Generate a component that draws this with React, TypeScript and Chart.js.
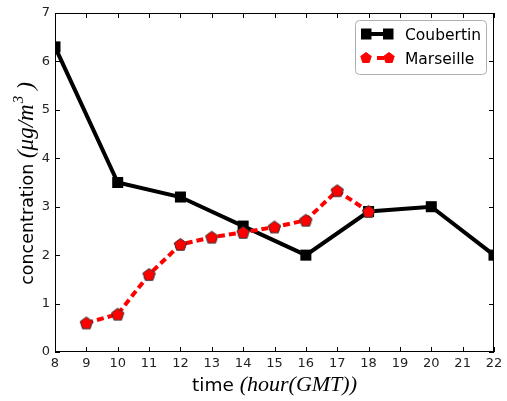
import React, { useEffect, useRef } from "react";
import { Chart, registerables } from "chart.js";
Chart.register(...registerables);

const hoursC = [8, 10, 12, 14, 16, 18, 20, 22];
const coubertin = [6.3, 3.5, 3.2, 2.6, 2.0, 2.9, 3.0, 2.0];
const hoursM = [9, 10, 11, 12, 13, 14, 15, 16, 17, 18];
const marseille = [0.6, 0.78, 1.6, 2.22, 2.37, 2.47, 2.58, 2.72, 3.33, 2.9];
const xRange = [8, 22];
const yRange = [0, 7];
const seriesNames = ["Coubertin", "Marseille"];

function pentagonCanvas(r: number, fill: string, stroke: string) {
  const size = Math.ceil(r * 2 + 4);
  const c = document.createElement("canvas");
  c.width = size;
  c.height = size;
  const g = c.getContext("2d")!;
  drawPentagon(g, size / 2, size / 2 + 0.5, r, fill, stroke);
  return c;
}

function drawPentagon(g: CanvasRenderingContext2D, cx: number, cy: number, r: number, fill: string, stroke: string) {
  g.beginPath();
  for (let i = 0; i < 5; i++) {
    const a = -Math.PI / 2 + (i * 2 * Math.PI) / 5;
    const px = cx + r * Math.cos(a);
    const py = cy + r * Math.sin(a);
    if (i === 0) g.moveTo(px, py);
    else g.lineTo(px, py);
  }
  g.closePath();
  g.fillStyle = fill;
  g.fill();
  g.lineWidth = 1;
  g.strokeStyle = stroke;
  g.stroke();
}

const SANS = "'DejaVu Sans', sans-serif";
const MATH = "'Liberation Serif', serif";

const decorPlugin = {
  id: "decor",
  afterDatasetsDraw(chart: any) {
    const { ctx, chartArea } = chart;
    const { left, right, top, bottom } = chartArea;
    const xs = chart.scales.x;
    const ys = chart.scales.y;
    ctx.save();
    // frame
    ctx.strokeStyle = "#000";
    ctx.lineWidth = 1;
    ctx.strokeRect(left + 0.5, top + 0.5, right - left - 1, bottom - top - 1);
    // inward ticks
    const tl = 5;
    ctx.beginPath();
    for (let v = xRange[0]; v <= xRange[1]; v++) {
      const px = Math.round(xs.getPixelForValue(v)) + 0.5;
      ctx.moveTo(px, bottom);
      ctx.lineTo(px, bottom - tl);
      ctx.moveTo(px, top);
      ctx.lineTo(px, top + tl);
    }
    for (let v = yRange[0]; v <= yRange[1]; v++) {
      const py = Math.round(ys.getPixelForValue(v)) + 0.5;
      ctx.moveTo(left, py);
      ctx.lineTo(left + tl, py);
      ctx.moveTo(right, py);
      ctx.lineTo(right - tl, py);
    }
    ctx.stroke();

    // legend
    const lx = 355.5, ly = 20.5, lw = 131, lh = 54;
    ctx.beginPath();
    const rr = 4;
    ctx.moveTo(lx + rr, ly);
    ctx.arcTo(lx + lw, ly, lx + lw, ly + lh, rr);
    ctx.arcTo(lx + lw, ly + lh, lx, ly + lh, rr);
    ctx.arcTo(lx, ly + lh, lx, ly, rr);
    ctx.arcTo(lx, ly, lx + lw, ly, rr);
    ctx.closePath();
    ctx.fillStyle = "#fff";
    ctx.fill();
    ctx.strokeStyle = "#b0b0b0";
    ctx.lineWidth = 1;
    ctx.stroke();

    // Coubertin entry
    const r1y = 34;
    ctx.beginPath();
    ctx.strokeStyle = "#000";
    ctx.lineWidth = 4;
    ctx.moveTo(368, r1y);
    ctx.lineTo(387, r1y);
    ctx.stroke();
    ctx.fillStyle = "#000";
    ctx.fillRect(361, r1y - 5.5, 10.5, 11);
    ctx.fillRect(383, r1y - 5.5, 10.5, 11);
    // Marseille entry
    const r2y = 58;
    ctx.beginPath();
    ctx.strokeStyle = "#ff0000";
    ctx.lineWidth = 4;
    ctx.moveTo(377, r2y);
    ctx.lineTo(384, r2y);
    ctx.stroke();
    drawPentagon(ctx, 366, r2y, 5.5, "#ff0000", "#ff0000");
    drawPentagon(ctx, 389, r2y, 5.5, "#ff0000", "#ff0000");

    ctx.fillStyle = "#000";
    ctx.font = `15.5px ${SANS}`;
    ctx.textBaseline = "alphabetic";
    ctx.textAlign = "left";
    ctx.fillText(seriesNames[0], 405, 40);
    ctx.fillText(seriesNames[1], 405, 64);

    // x title, centred on plot
    const cx = (left + right) / 2;
    ctx.font = `18.5px ${SANS}`;
    const w1 = ctx.measureText("time ").width;
    ctx.font = `italic 22px ${MATH}`;
    const w2 = ctx.measureText("(hour(GMT))").width;
    let x = cx - (w1 + w2) / 2;
    const by = 391;
    ctx.font = `18.5px ${SANS}`;
    ctx.fillText("time ", x, by);
    x += w1;
    ctx.font = `italic 22px ${MATH}`;
    ctx.fillText("(hour(GMT))", x, by);

    // y title, centred on plot
    ctx.font = `17.5px ${SANS}`;
    const a1 = ctx.measureText("concentration ").width;
    ctx.font = `italic 23px ${MATH}`;
    const a2 = ctx.measureText("(μg/m").width;
    ctx.font = `italic 15px ${MATH}`;
    const a3 = ctx.measureText("3").width + 7;
    ctx.font = `italic 23px ${MATH}`;
    const a4 = ctx.measureText(")").width;
    const total = a1 + a2 + a3 + a4;
    const cy = (top + bottom) / 2 + 1;
    ctx.save();
    ctx.translate(33, cy + total / 2);
    ctx.rotate(-Math.PI / 2);
    let t = 0;
    ctx.font = `17.5px ${SANS}`;
    ctx.fillText("concentration ", t, 0);
    t += a1;
    ctx.font = `italic 23px ${MATH}`;
    ctx.fillText("(μg/m", t, 0);
    t += a2;
    ctx.font = `italic 15px ${MATH}`;
    ctx.fillText("3", t + 1, -10);
    t += a3;
    ctx.font = `italic 23px ${MATH}`;
    ctx.fillText(")", t, 0);
    ctx.restore();

    ctx.restore();
  },
};

export default function App() {
  const ref = useRef<HTMLCanvasElement>(null);
  useEffect(() => {
    document.body.style.margin = "0";
    const pent = pentagonCanvas(6.5, "#ff0000", "#333");
    const chart = new Chart(ref.current!, {
      type: "line",
      data: {
        datasets: [
          {
            label: seriesNames[1],
            data: hoursM.map((h, i) => ({ x: h, y: marseille[i] })),
            borderColor: "#ff0000",
            borderWidth: 4,
            borderDash: [7, 4],
            pointStyle: pent as any,
            pointRadius: 7,
            order: 0,
            tension: 0,
          },
          {
            label: seriesNames[0],
            data: hoursC.map((h, i) => ({ x: h, y: coubertin[i] })),
            borderColor: "#000",
            backgroundColor: "#000",
            borderWidth: 4,
            pointStyle: "rect",
            pointRadius: 7.8,
            pointBorderWidth: 0,
            order: 1,
            tension: 0,
          },
        ],
      },
      options: {
        animation: false,
        responsive: false,
        layout: { padding: { top: 13, right: 13, left: 0, bottom: 0 } },
        plugins: { legend: { display: false }, tooltip: { enabled: false } },
        scales: {
          x: {
            type: "linear",
            min: xRange[0],
            max: xRange[1],
            grid: { display: false, drawTicks: false },
            border: { display: false },
            ticks: { stepSize: 1, padding: 4, color: "#222", font: { size: 13, family: SANS } },
            afterFit: (s: any) => { s.height = 49; },
          },
          y: {
            min: yRange[0],
            max: yRange[1],
            grid: { display: false, drawTicks: false },
            border: { display: false },
            ticks: { stepSize: 1, padding: 5, color: "#222", font: { size: 13, family: SANS } },
            afterFit: (s: any) => { s.width = 55; },
          },
        },
      },
      plugins: [decorPlugin],
    });
    return () => chart.destroy();
  }, []);
  return (
    <div style={{ position: "absolute", left: 0, top: 0, width: 507, height: 401, background: "#fff" }}>
      <canvas ref={ref} width={507} height={401} style={{ width: 507, height: 401 }} />
    </div>
  );
}
